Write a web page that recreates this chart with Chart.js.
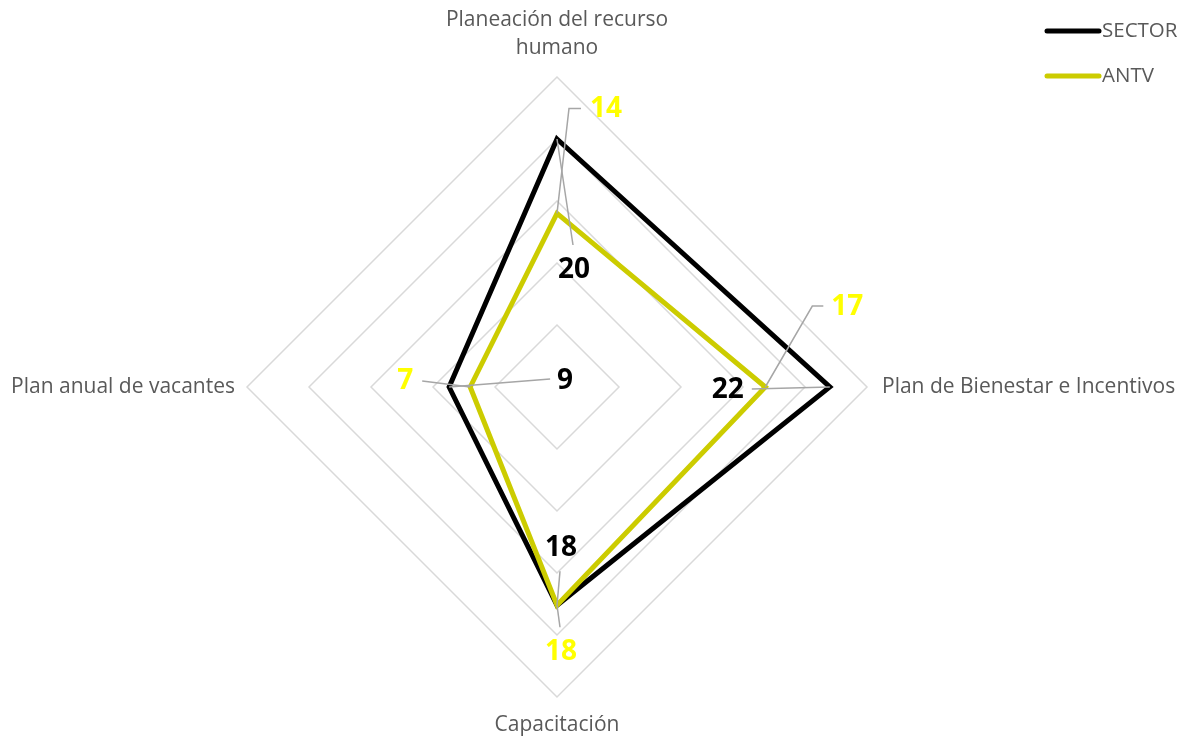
<!DOCTYPE html>
<html>
<head>
<meta charset="utf-8">
<script src="https://cdn.jsdelivr.net/npm/chart.js@4.4.0/dist/chart.umd.min.js"></script>
<style>
  html, body { margin: 0; padding: 0; background: #fff; }
  #wrap { width: 1183px; height: 741px; }
</style>
</head>
<body>
<div id="wrap"><canvas id="myChart"></canvas></div>
<script>
// data (labels show them rounded)
var categories = [
  ["Planeación del recurso", "humano"],
  "Plan de Bienestar e Incentivos",
  "Capacitación",
  "Plan anual de vacantes",
];
var seriesNames = ["SECTOR", "ANTV"];
var sectorValues = [20, 22, 17.6, 8.7];
var antvValues = [14, 16.8, 17.6, 7];
var scaleMax = 25;
var scaleStep = 5;

// where each value label sits relative to its point, plus its leader line
var labelSpots = [
  [
    { off: [17, 131], line: [[-1, -25]] },
    { off: [-102, 3], line: [[24, -1]] },
    { off: [4, -57], line: [[-1, 23]] },
    { off: [116, -6], line: [[-15, -2]] },
  ],
  [
    { off: [49, -104], line: [[-25, -1], [-37, -1]] },
    { off: [82, -80], line: [[-24, -1], [-35, -1]] },
    { off: [4, 47], line: [[-1, -25]] },
    { off: [-65, -6], line: [[17, 0]] },
  ],
];

// category labels: gap outside the outer ring, and text alignment
var catGap = [29, 15, 28, 12];
var catAlign = ["center", "left", "center", "right"];
var catLineHeight = 28;

var categoryLabels = {
  id: "categoryLabels",
  afterDraw: function (chart) {
    var scale = chart.scales.r;
    var c = chart.ctx;
    c.save();
    c.fillStyle = "#595959";
    c.font = "21px 'Open Sans'";
    c.textBaseline = "middle";
    chart.data.labels.forEach(function (lab, i) {
      var pos = scale.getPointPosition(i, scale.drawingArea + catGap[i]);
      var lines = Array.isArray(lab) ? lab : [lab];
      c.textAlign = catAlign[i];
      for (var k = 0; k < lines.length; k++) {
        var y;
        if (i === 0) {
          y = pos.y - (lines.length - 1 - k) * catLineHeight;
        } else {
          y = pos.y + k * catLineHeight;
        }
        c.fillText(lines[k], pos.x, y);
      }
    });
    c.restore();
  },
};

var valueLabels = {
  id: "valueLabels",
  afterDatasetsDraw: function (chart) {
    var c = chart.ctx;
    chart.data.datasets.forEach(function (ds, i) {
      var meta = chart.getDatasetMeta(i);
      meta.data.forEach(function (pt, j) {
        var s = labelSpots[i][j];
        var lx = pt.x + s.off[0];
        var ly = pt.y + s.off[1];
        c.save();
        c.strokeStyle = "#a6a6a6";
        c.lineWidth = 1.5;
        c.beginPath();
        c.moveTo(lx + s.line[0][0], ly + s.line[0][1]);
        for (var k = 1; k < s.line.length; k++) {
          c.lineTo(lx + s.line[k][0], ly + s.line[k][1]);
        }
        c.lineTo(pt.x, pt.y);
        c.stroke();
        c.fillStyle = ds.labelColor;
        c.font = "bold 28px 'Open Sans'";
        c.textAlign = "center";
        c.textBaseline = "middle";
        c.fillText(Math.round(ds.data[j]), lx, ly);
        c.restore();
      });
    });
  },
};

var sideLegend = {
  id: "sideLegend",
  afterDraw: function (chart) {
    var c = chart.ctx;
    chart.data.datasets.forEach(function (ds, i) {
      var y = 31 + i * 45;
      c.save();
      c.strokeStyle = ds.borderColor;
      c.lineWidth = 5;
      c.lineCap = "round";
      c.beginPath();
      c.moveTo(1047, y);
      c.lineTo(1099, y);
      c.stroke();
      c.fillStyle = "#595959";
      c.font = "20.5px 'Open Sans'";
      c.textBaseline = "middle";
      c.fillText(ds.label, 1102, y);
      c.restore();
    });
  },
};

var ctx = document.getElementById("myChart");
var myChart = new Chart(ctx, {
  type: "radar",
  data: {
    labels: categories,
    datasets: [
      {
        label: seriesNames[0],
        data: sectorValues,
        borderColor: "#000000",
        labelColor: "#000000",
        borderWidth: 5,
        fill: false,
        order: 1,
      },
      {
        label: seriesNames[1],
        data: antvValues,
        borderColor: "#cccc00",
        labelColor: "#ffff00",
        borderWidth: 5,
        fill: false,
        order: 0,
      },
    ],
  },
  options: {
    responsive: true,
    maintainAspectRatio: false,
    animation: false,
    layout: { padding: { left: 247, right: 316, top: 77, bottom: 44 } },
    elements: {
      line: { tension: 0 },
      point: { radius: 0, hoverRadius: 0 },
    },
    plugins: {
      legend: { display: false },
      tooltip: { enabled: false },
    },
    scales: {
      r: {
        min: 0,
        max: scaleMax,
        ticks: { stepSize: scaleStep, display: false },
        grid: { color: "#d9d9d9", lineWidth: 1.5 },
        angleLines: { display: false },
        pointLabels: { display: false },
      },
    },
  },
  plugins: [categoryLabels, valueLabels, sideLegend],
});
</script>
</body>
</html>
